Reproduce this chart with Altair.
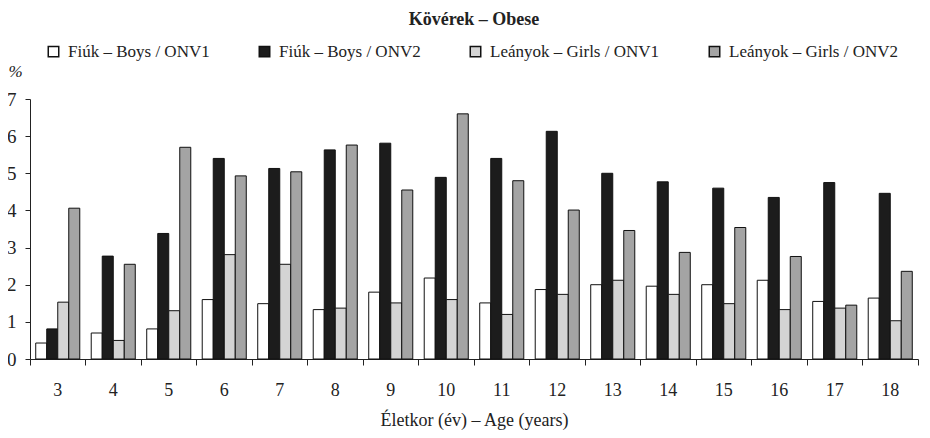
import altair as alt
import pandas as pd

ages = ["3", "4", "5", "6", "7", "8", "9", "10", "11", "12", "13", "14", "15", "16", "17", "18"]
series = ["Fiúk – Boys / ONV1", "Fiúk – Boys / ONV2", "Leányok – Girls / ONV1", "Leányok – Girls / ONV2"]
boys_onv1 = [0.43, 0.70, 0.81, 1.60, 1.49, 1.33, 1.80, 2.18, 1.51, 1.87, 2.00, 1.96, 2.00, 2.12, 1.55, 1.64]
boys_onv2 = [0.81, 2.77, 3.38, 5.40, 5.13, 5.63, 5.81, 4.89, 5.40, 6.13, 5.00, 4.77, 4.60, 4.35, 4.75, 4.46]
girls_onv1 = [1.53, 0.50, 1.30, 2.81, 2.55, 1.37, 1.51, 1.60, 1.20, 1.74, 2.12, 1.74, 1.49, 1.33, 1.37, 1.03]
girls_onv2 = [4.06, 2.55, 5.70, 4.93, 5.04, 5.76, 4.55, 6.60, 4.80, 4.01, 3.46, 2.87, 3.54, 2.76, 1.45, 2.36]
colors = ["#ffffff", "#1c1c1c", "#d4d4d4", "#a4a4a4"]

rows = []
for s, vals in zip(series, [boys_onv1, boys_onv2, girls_onv1, girls_onv2]):
    for a, v in zip(ages, vals):
        rows.append({"age": a, "series": s, "value": v})
df = pd.DataFrame(rows)

FONT = "Liberation Serif, DejaVu Serif, serif"
W, H = 888, 260

chart = alt.Chart(df).mark_bar(stroke="#111111", strokeWidth=1).encode(
    x=alt.X("age:N", sort=ages,
            scale=alt.Scale(paddingInner=0, paddingOuter=0),
            axis=alt.Axis(title="Életkor (év) – Age (years)", labelAngle=0,
                          bandPosition=1, tickExtra=True, labelOffset=0,
                          tickSize=6, tickWidth=1, labelPadding=16, labelFontSize=18,
                          labelFont=FONT, titleFont=FONT,
                          titleFontSize=18, titlePadding=12, titleFontWeight="normal",
                          domainColor="#222222", tickColor="#222222",
                          labelColor="#222222", titleColor="#222222")),
    xOffset=alt.XOffset("series:N", sort=series,
                        scale=alt.Scale(paddingInner=0, paddingOuter=0.52)),
    y=alt.Y("value:Q", scale=alt.Scale(domain=[0, 7], nice=False),
            axis=alt.Axis(title="%", values=[0, 1, 2, 3, 4, 5, 6, 7], grid=False,
                          tickSize=5, labelPadding=9, labelFontSize=19,
                          labelFont=FONT, titleFont=FONT,
                          titleAngle=0, titleX=-15, titleY=-28, titleAlign="center",
                          titleBaseline="middle", titleFontStyle="italic",
                          titleFontWeight="normal", titleFontSize=17,
                          domainColor="#222222", tickColor="#222222",
                          labelColor="#222222", titleColor="#222222")),
    fill=alt.Fill("series:N", sort=series,
                  scale=alt.Scale(domain=series, range=colors),
                  legend=alt.Legend(title=None, orient="none", direction="horizontal",
                                    legendX=15, legendY=-56, symbolType="square",
                                    symbolSize=110, symbolStrokeColor="#111111",
                                    symbolStrokeWidth=1.5, labelFontSize=17,
                                    labelFont=FONT,
                                    labelOffset=6, columnPadding=46, padding=0,
                                    labelColor="#222222", labelLimit=300)),
).properties(
    width=W, height=H,
    title=alt.TitleParams("Kövérek – Obese", font=FONT, fontSize=18, fontWeight="bold",
                          anchor="middle", frame="group", offset=14, color="#222222"),
    autosize=alt.AutoSizeParams(type="none"),
    padding={"left": 22, "top": 91, "right": 4, "bottom": 78},
).configure(font=FONT).configure_view(stroke=None)

chart.save("out.html", embed_options={"renderer": "svg", "actions": False})
